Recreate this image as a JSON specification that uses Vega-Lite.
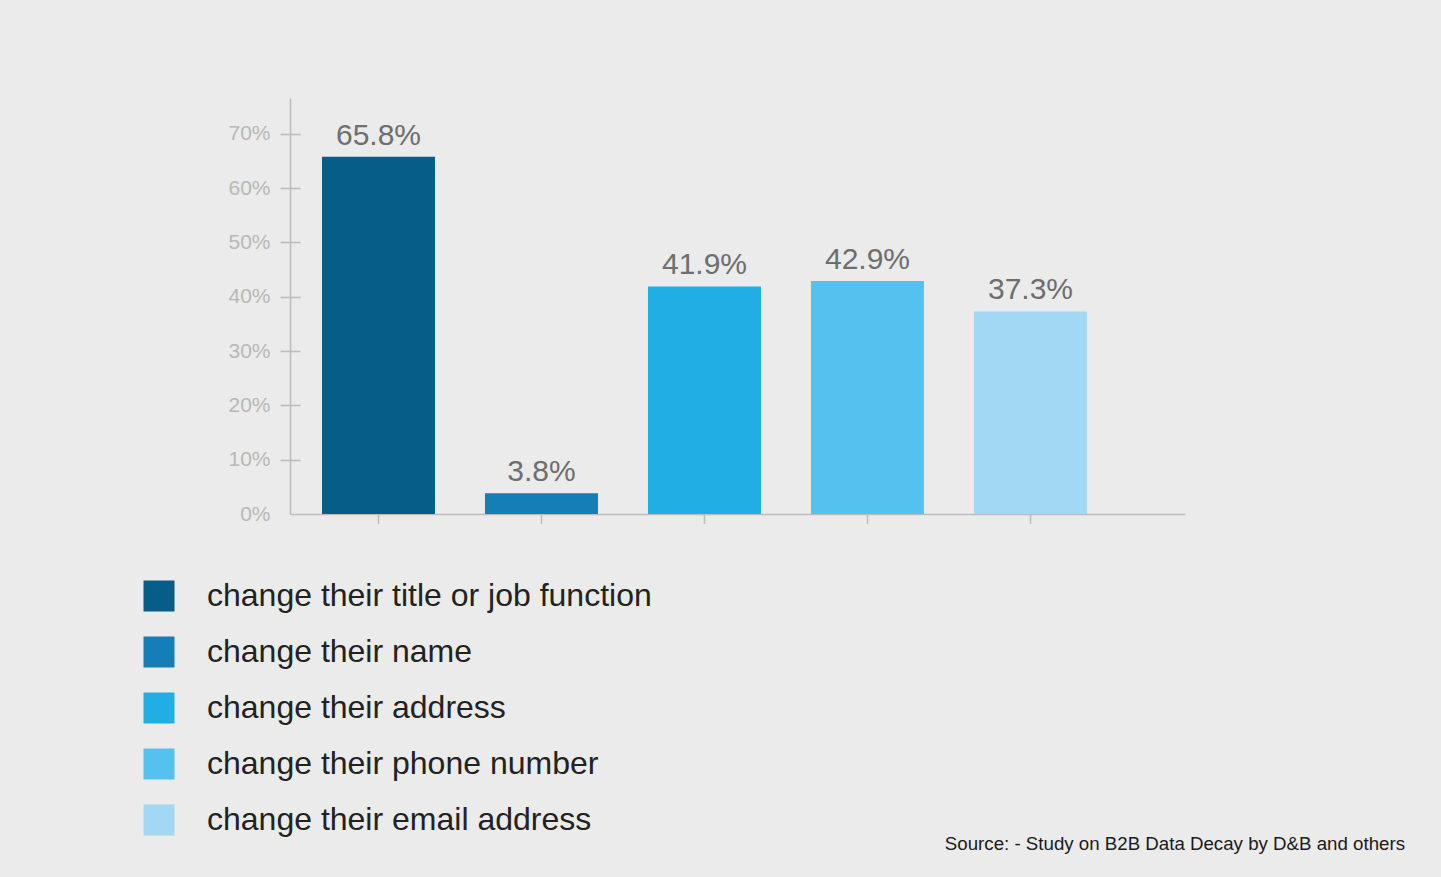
{
  "$schema": "https://vega.github.io/schema/vega-lite/v6.json",
  "autosize": {"type": "none"},
  "width": 895,
  "height": 416,
  "padding": {"left": 290, "top": 98, "right": 256, "bottom": 363},
  "background": "#eaebea",
  "config": {
    "view": {"stroke": null},
    "font": "Liberation Sans"
  },
  "title": {
    "text": "Source: - Study on B2B Data Decay by D&B and others",
    "orient": "bottom",
    "anchor": "end",
    "dx": 220,
    "offset": -1,
    "fontSize": 18.7,
    "fontWeight": "normal",
    "color": "#1a1a1a",
    "font": "Liberation Sans"
  },
  "data": {
    "values": [
      {"category": "change their title or job function", "value": 0.658},
      {"category": "change their name", "value": 0.038},
      {"category": "change their address", "value": 0.419},
      {"category": "change their phone number", "value": 0.429},
      {"category": "change their email address", "value": 0.373}
    ]
  },
  "layer": [
    {
      "mark": {"type": "bar"},
      "encoding": {
        "x": {
          "field": "category",
          "type": "nominal",
          "sort": null,
          "scale": {"paddingInner": 0.3067, "paddingOuter": 0.3988, "align": 0.246},
          "axis": {
            "orient": "bottom",
            "title": null,
            "labels": false,
            "ticks": false,
            "domain": true,
            "domainColor": "#bdbdbd",
            "domainWidth": 1.6
          }
        },
        "y": {
          "field": "value",
          "type": "quantitative",
          "scale": {"domain": [0, 0.766], "nice": false, "zero": true},
          "axis": {
            "orient": "left",
            "title": null,
            "values": [0, 0.1, 0.2, 0.3, 0.4, 0.5, 0.6, 0.7],
            "format": ".0%",
            "ticks": false,
            "grid": false,
            "domain": true,
            "domainColor": "#bdbdbd",
            "domainWidth": 1.6,
            "labelPadding": 20,
            "labelFontSize": 21,
            "labelColor": "#b8b8b8",
            "labelFont": "Liberation Sans"
          }
        },
        "color": {
          "field": "category",
          "type": "nominal",
          "sort": null,
          "scale": {
            "domain": ["change their title or job function", "change their name", "change their address", "change their phone number", "change their email address"],
            "range": ["#065d87", "#167eb6", "#21aee4", "#55c1ee", "#a2d8f4"]
          },
          "legend": {
            "orient": "none",
            "legendX": -147,
            "legendY": 482,
            "title": null,
            "symbolType": "square",
            "symbolSize": 961,
            "symbolStrokeWidth": 0,
            "symbolOpacity": 1,
            "labelFontSize": 32,
            "labelFont": "Liberation Sans",
            "labelColor": "#222222",
            "labelOffset": 32,
            "labelLimit": 800,
            "rowPadding": 24
          }
        }
      }
    },
    {
      "mark": {"type": "text", "baseline": "alphabetic", "dy": -12, "fontSize": 30, "color": "#6e6e6e", "font": "Liberation Sans"},
      "encoding": {
        "x": {
          "field": "category",
          "type": "nominal",
          "sort": null,
          "axis": {
            "orient": "bottom",
            "title": null,
            "labels": false,
            "domain": false,
            "ticks": true,
            "tickSize": 19,
            "tickColor": "#bdbdbd",
            "tickWidth": 1.6,
            "offset": -9.5
          }
        },
        "y": {
          "field": "value",
          "type": "quantitative",
          "axis": {
            "orient": "left",
            "title": null,
            "labels": false,
            "domain": false,
            "grid": false,
            "ticks": true,
            "values": [0.1, 0.2, 0.3, 0.4, 0.5, 0.6, 0.7],
            "tickSize": 20,
            "tickColor": "#bdbdbd",
            "tickWidth": 1.6,
            "offset": -10
          }
        },
        "text": {"field": "value", "type": "quantitative", "format": ".1%"}
      }
    }
  ],
  "resolve": {"axis": {"x": "independent", "y": "independent"}}
}
